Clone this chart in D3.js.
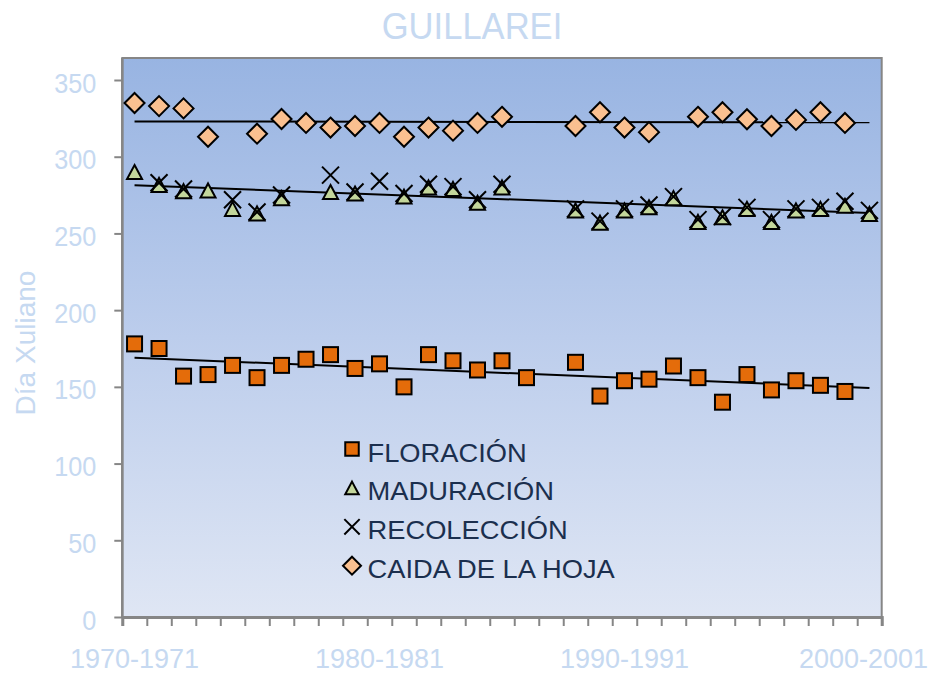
<!DOCTYPE html>
<html>
<head>
<meta charset="utf-8">
<script src="https://cdn.jsdelivr.net/npm/d3@7"></script>
<style>
  body { margin: 0; background: #ffffff; }
  text { font-family: "Liberation Sans", Arial, sans-serif; }
</style>
</head>
<body>
<svg id="chart" width="935" height="675"></svg>
<script>
// Seasons on the category axis
const seasons = d3.range(1970, 2001).map(y => `${y}-${y + 1}`);
const labelledSeasons = ["1970-1971", "1980-1981", "1990-1991", "2000-2001"];
const yTickValues = [0, 50, 100, 150, 200, 250, 300, 350];

// Julian day of each phenological stage per season (null = no record)
const floracion = [178, 175, 157, 158, 164, 156, 164, 168, 171, 162, 165, 150, 171, 167, 161, 167,
                   156, null, 166, 144, 154, 155, 163.6, 156, 140, 158, 148, 154, 151, 147, null];
const maduracion = [290, 281.6, 277.5, 278, 266, 263, 273, null, 277, 276, null, 274, 280, 279, 270, 280,
                    null, null, 265, 257, 265, 267, 273, 257.5, 260.5, 266, 257.5, 265, 266, 268, 262.7];
const recoleccion = [null, 283, 279, null, 272, 264, 275, null, 288, 277, 284, 276, 282, 280.5, 272, 282,
                     null, null, 266, 258, 266, 268.5, 274, 259, 261, 267, 259, 266, 267, 271, 265];
const caidaHoja = [335, 333, 331.5, 313, null, 315, 324.6, 322, 319, 320, 322, 313, 319, 317, 322, 326,
                   null, null, 320, 329, 319, 316, null, 326, 329, 324.4, 320, 324, 329, 322, null];

const seriesNames = ["FLORACIÓN", "MADURACIÓN", "RECOLECCIÓN", "CAIDA DE LA HOJA"];
const seriesValues = [floracion, maduracion, recoleccion, caidaHoja];
const seriesShapes = ["square", "triangle", "cross", "diamond"];
const seriesFills = ["#e46c0a", "#c3d69b", "none", "#fac090"];

const width = 935;
const svg = d3.select("#chart");
const plot = { left: 122.3, right: 881.7, top: 58, bottom: 617 };

const x = d3.scaleBand().domain(seasons).range([plot.left, plot.right]);
const xIndex = d3.scaleLinear().domain([0, seasons.length]).range([plot.left, plot.right]);
const cx = s => x(s) + x.bandwidth() / 2;
const y = d3.scaleLinear().domain([0, 350]).range([617, 80]);

const lightBlue = "#c6d9f1";
const axisGray = "#868686";

// squeeze/stretch a text element horizontally to a factor of its natural width
function fit(sel, factor) {
  sel.each(function () {
    const w = this.getComputedTextLength();
    d3.select(this).attr("textLength", w * factor).attr("lengthAdjust", "spacingAndGlyphs");
  });
}

// Plot background gradient
const defs = svg.append("defs");
const grad = defs.append("linearGradient").attr("id", "bg").attr("x1", 0).attr("y1", 0).attr("x2", 0).attr("y2", 1);
grad.append("stop").attr("offset", "0%").attr("stop-color", "#98b4e2");
grad.append("stop").attr("offset", "50%").attr("stop-color", "#bccdec");
grad.append("stop").attr("offset", "100%").attr("stop-color", "#dfe6f4");

svg.append("rect")
  .attr("x", plot.left).attr("y", plot.top)
  .attr("width", plot.right - plot.left).attr("height", plot.bottom - plot.top)
  .attr("fill", "url(#bg)")
  .attr("stroke", axisGray).attr("stroke-width", 2);

// Title
svg.append("text")
  .attr("x", 472).attr("y", 39)
  .attr("text-anchor", "middle")
  .attr("font-size", 36)
  .attr("fill", lightBlue)
  .text("GUILLAREI")
  .call(fit, 0.96);

// Y axis
const yAxis = svg.append("g")
  .attr("transform", `translate(${plot.left},0)`)
  .call(d3.axisLeft(y).tickValues(yTickValues).tickSize(8).tickPadding(18));
yAxis.select(".domain").remove();
yAxis.selectAll(".tick line").attr("stroke", axisGray).attr("stroke-width", 2);
yAxis.selectAll(".tick text")
  .attr("font-size", 28).attr("fill", lightBlue).attr("font-family", "Liberation Sans, Arial, sans-serif")
  .attr("dy", "0.43em")
  .call(fit, 0.9);
svg.append("line")
  .attr("x1", plot.left).attr("x2", plot.left)
  .attr("y1", plot.top).attr("y2", plot.bottom)
  .attr("stroke", axisGray).attr("stroke-width", 2.5);

// Y axis title
svg.append("text")
  .attr("transform", "translate(35,343) rotate(-90)")
  .attr("text-anchor", "middle")
  .attr("font-size", 28)
  .attr("fill", lightBlue)
  .text("Día Xuliano")
  .call(fit, 1.0);

// X axis: tick marks on the category boundaries
const xAxis = svg.append("g")
  .attr("transform", `translate(0,${plot.bottom})`)
  .call(d3.axisBottom(xIndex).tickValues(d3.range(seasons.length + 1)).tickSize(9).tickFormat(""));
xAxis.select(".domain").attr("stroke", axisGray).attr("stroke-width", 3);
xAxis.selectAll(".tick line").attr("stroke", axisGray).attr("stroke-width", 2);

// Season labels, kept clear of the right edge of the page
svg.append("g").selectAll("text")
  .data(labelledSeasons)
  .join("text")
  .attr("x", d => cx(d)).attr("y", 668)
  .attr("text-anchor", "middle")
  .attr("font-size", 27)
  .attr("fill", lightBlue)
  .text(d => d)
  .each(function (d) {
    const w = this.getComputedTextLength();
    d3.select(this).attr("x", Math.min(cx(d), width - 7 - w / 2));
  });

// Linear trend lines (least squares over the season index)
function trend(values) {
  const pts = values.map((v, i) => [i, v]).filter(p => p[1] != null);
  const mx = d3.mean(pts, p => p[0]), my = d3.mean(pts, p => p[1]);
  const sxy = d3.sum(pts, p => (p[0] - mx) * (p[1] - my));
  const sxx = d3.sum(pts, p => (p[0] - mx) ** 2);
  const b = sxy / sxx, a = my - b * mx;
  return [[0, a], [seasons.length - 1, a + b * (seasons.length - 1)]];
}
const trendLine = d3.line().x(p => cx(seasons[p[0]])).y(p => y(p[1]));
svg.append("g").selectAll("path")
  .data([floracion, recoleccion, caidaHoja])
  .join("path")
  .attr("d", v => trendLine(trend(v)))
  .attr("fill", "none").attr("stroke", "#000").attr("stroke-width", 2);

// Marker shapes
function drawMarker(g, shape, fill, scale) {
  const k = scale || 1;
  if (shape === "square") {
    g.append("rect").attr("x", -7.5 * k).attr("y", -7.5 * k).attr("width", 15 * k).attr("height", 15 * k)
      .attr("fill", fill).attr("stroke", "#000").attr("stroke-width", 2);
  } else if (shape === "triangle") {
    g.append("path").attr("d", `M0,${-7 * k}L${7.5 * k},${7 * k}L${-7.5 * k},${7 * k}Z`)
      .attr("fill", fill).attr("stroke", "#000").attr("stroke-width", 2).attr("stroke-linejoin", "miter");
  } else if (shape === "cross") {
    const r = 8.5 * k;
    g.append("path").attr("d", `M${-r},${-r}L${r},${r}M${r},${-r}L${-r},${r}`)
      .attr("fill", "none").attr("stroke", "#000").attr("stroke-width", 2);
  } else if (shape === "diamond") {
    const r = 10 * k;
    g.append("path").attr("d", `M0,${-r}L${r},0L0,${r}L${-r},0Z`)
      .attr("fill", fill).attr("stroke", "#000").attr("stroke-width", 2);
  }
}

// Data markers, drawn in series order
seriesValues.forEach((vals, si) => {
  const pts = vals.map((v, i) => ({ s: seasons[i], v })).filter(d => d.v != null);
  svg.append("g").selectAll("g")
    .data(pts)
    .join("g")
    .attr("transform", d => `translate(${cx(d.s)},${y(d.v)})`)
    .each(function () { drawMarker(d3.select(this), seriesShapes[si], seriesFills[si]); });
});

// Legend
const legend = svg.append("g");
seriesNames.forEach((name, i) => {
  const row = legend.append("g").attr("transform", `translate(352,${449 + i * 38.9})`);
  drawMarker(row, seriesShapes[i], seriesFills[i], 0.9);
  row.append("text")
    .attr("x", 15.5).attr("y", 12.5)
    .attr("font-size", 26)
    .attr("fill", "#1b2f4e")
    .text(name)
    .call(fit, 1.05);
});
</script>
</body>
</html>
